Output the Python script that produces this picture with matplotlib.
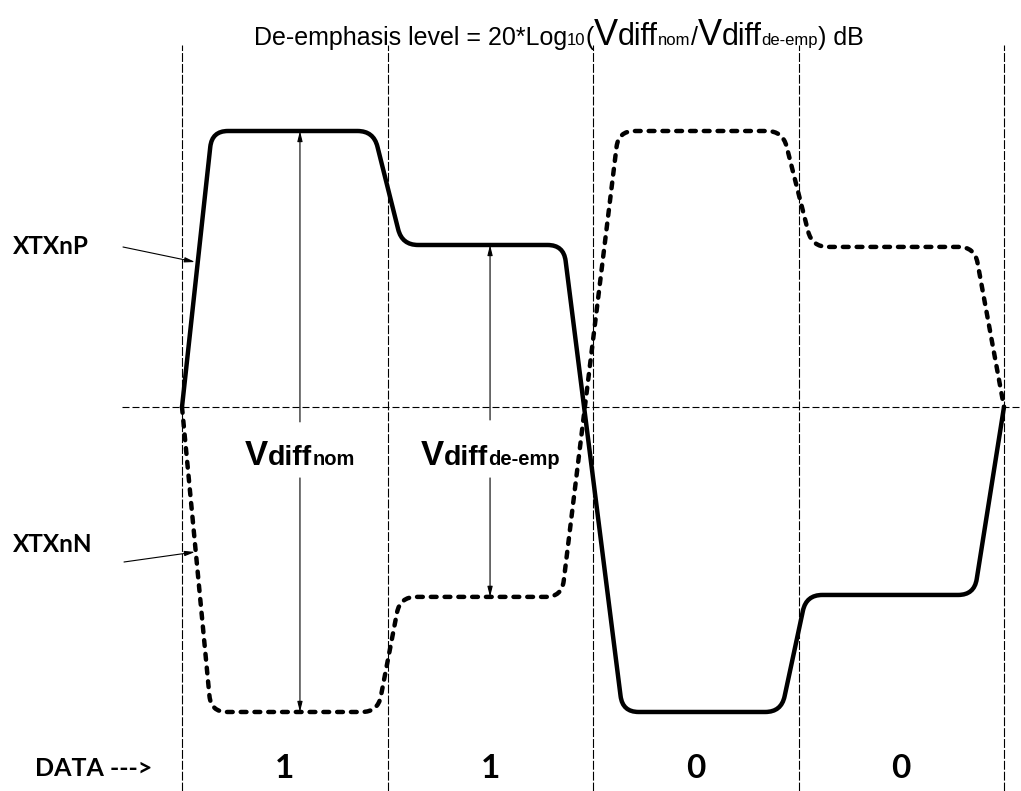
import numpy as np
import matplotlib.pyplot as plt
from matplotlib.path import Path
from matplotlib.patches import PathPatch

# time in unit intervals (bit edges at 0..4), level in units of the nominal high swing
bit_edges = [0, 1, 2, 3, 4]
data_bits = ["1", "1", "0", "0"]

# XTXnP (solid) corner points
p_t = np.array([0.0, 0.146, 0.932, 1.071, 1.857, 2.144, 2.916, 3.038, 3.855, 4.0])
p_v = np.array([0.0, 1.0, 1.0, 0.587, 0.587, -1.105, -1.105, -0.681, -0.681, 0.0])

# XTXnN (dashed) corner points
n_t = np.array([0.0, 0.141, 0.953, 1.061, 1.848, 2.124, 2.923, 3.066, 3.857, 4.0])
n_v = np.array([0.0, -1.105, -1.105, -0.688, -0.688, 1.0, 1.0, 0.58, 0.58, 0.0])

# measurement arrows (t, v_start, v_end)
nom_arrow_t = 0.574
nom_up = (-0.054, 1.0)
nom_down = (-0.257, -1.105)
de_arrow_t = 1.499
de_up = (-0.047, 0.587)
de_down = (-0.257, -0.688)

W, H = 1021, 791
SX, SY = 205.5, 276.0      # px per UI, px per level unit
X0, Y0 = 182.0, 407.0      # px of t=0, v=0

fig = plt.figure(figsize=(W / 100, H / 100), dpi=100)
ax = fig.add_axes([0, 0, 1, 1])
ax.set_xlim(-X0 / SX, (W - X0) / SX)
ax.set_ylim(-(H - Y0) / SY, Y0 / SY)
ax.axis('off')


def rounded(ts, vs, r=16):
    pts = np.column_stack([ts * SX, vs * SY])
    verts = [pts[0]]
    codes = [Path.MOVETO]
    for i in range(1, len(pts) - 1):
        p0, p1, p2 = pts[i - 1], pts[i], pts[i + 1]
        d1 = p0 - p1
        d2 = p2 - p1
        l1 = np.hypot(*d1)
        l2 = np.hypot(*d2)
        rr = min(r, l1 / 2, l2 / 2)
        verts += [p1 + d1 / l1 * rr, p1, p1 + d2 / l2 * rr]
        codes += [Path.LINETO, Path.CURVE3, Path.CURVE3]
    verts.append(pts[-1])
    codes.append(Path.LINETO)
    verts = np.array(verts) / [SX, SY]
    return Path(verts, codes)


# grid lines
for t in bit_edges:
    ax.plot([t, t], [ax.get_ylim()[0], (Y0 - 45) / SY], color='black', lw=0.8,
            dashes=(8, 1.8), zorder=1)
ax.plot([(122 - X0) / SX, ax.get_xlim()[1]], [0, 0], color='black', lw=0.8,
        dashes=(6.3, 2.7), zorder=1)

# waveforms
ax.add_patch(PathPatch(rounded(p_t, p_v), fill=False, lw=3.2, ec='black',
                       capstyle='round', joinstyle='round', zorder=3))
pn = PathPatch(rounded(n_t, n_v), fill=False, lw=3.2, ec='black',
               capstyle='round', joinstyle='round', zorder=3)
pn.set_linestyle((0, (1.3, 1.8)))
ax.add_patch(pn)

# measurement arrows
aprops = dict(arrowstyle='-|>,head_length=0.6,head_width=0.15', lw=0.8, color='black',
              shrinkA=0, shrinkB=0)
for t, seg in [(nom_arrow_t, nom_up), (nom_arrow_t, nom_down),
               (de_arrow_t, de_up), (de_arrow_t, de_down)]:
    ax.annotate('', xy=(t, seg[1]), xytext=(t, seg[0]), arrowprops=aprops)

# signal name labels
lbl_font = dict(family='Lato', weight='bold', fontsize=17.5)
ax.text(-169 / SX, (Y0 - 247) / SY, 'XTXnP', ha='left', va='center', **lbl_font)
ax.text(-169 / SX, (Y0 - 545) / SY, 'XTXnN', ha='left', va='center', **lbl_font)
ax.annotate('', xy=((195 - X0) / SX, (Y0 - 262) / SY),
            xytext=((123 - X0) / SX, (Y0 - 247) / SY), arrowprops=aprops)
ax.annotate('', xy=((195 - X0) / SX, (Y0 - 552) / SY),
            xytext=((124 - X0) / SX, (Y0 - 562) / SY), arrowprops=aprops)

# data row
ax.text(-147 / SX, (Y0 - 768) / SY, 'DATA --->', ha='left', va='center',
        family='Lato', weight='bold', fontsize=18)
for i, b in enumerate(data_bits):
    ax.text(i + 0.5, (Y0 - 768) / SY, b, ha='center', va='center',
            family='Lato', weight='bold', fontsize=24)

fig.canvas.draw()
renderer = fig.canvas.get_renderer()


def runs_text(cx, base_y, runs, family, weight='normal'):
    # place text runs of different sizes on one baseline, centred at cx (px)
    items = []
    for s, size in runs:
        t = fig.text(0, 0, s, fontsize=size, family=family, weight=weight,
                     va='baseline', ha='left')
        items.append(t)
    widths = [t.get_window_extent(renderer).width for t in items]
    x = cx - sum(widths) / 2
    for t, w in zip(items, widths):
        t.set_position((x / W, 1 - base_y / H))
        x += w


title_runs = [("De-emphasis level = 20*Log", 18), ("10", 12), ("(", 18),
              ("V", 26), ("diff", 22), ("nom", 12), ("/", 18),
              ("V", 26), ("diff", 22), ("de-emp", 12), (") dB", 18)]
runs_text(559, 45, title_runs, 'Liberation Sans')

runs_text(300, 465, [("V", 25), ("diff", 20.5), ("nom", 14.5)], 'Liberation Sans', 'bold')
runs_text(490, 465, [("V", 25), ("diff", 20.5), ("de-emp", 14.5)], 'Liberation Sans', 'bold')

fig.savefig('out.png', dpi=100)
